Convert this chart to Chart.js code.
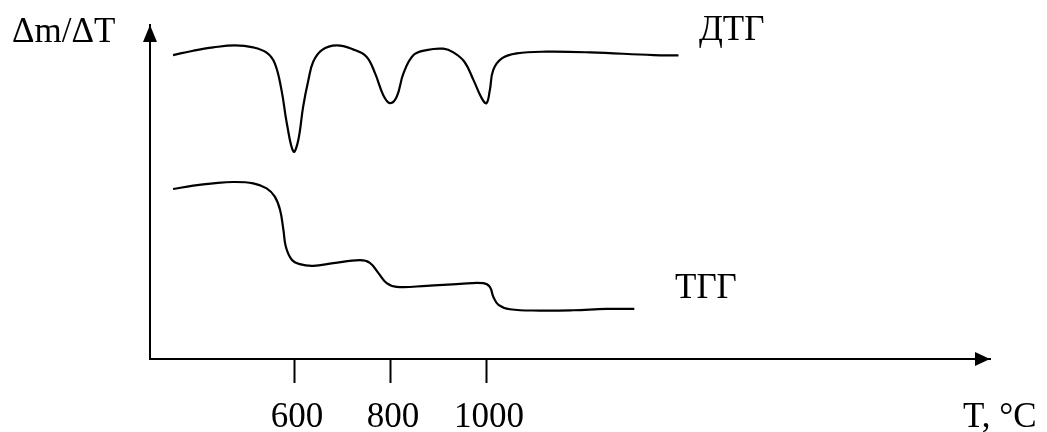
<!DOCTYPE html>
<html>
<head>
<meta charset="utf-8">
<title>ДТГ / ТГГ</title>
<script src="https://cdn.jsdelivr.net/npm/chart.js@4/dist/chart.umd.min.js"></script>
<style>
  body { margin: 0; background: #fff; }
  #wrap { width: 1047px; height: 432px; position: relative; }
</style>
</head>
<body>
<div id="wrap"><canvas id="chart-area"></canvas></div>
<script>
// data (temperature in °C, signal in arbitrary units 0..100)

var tickValues = [600, 800, 1000];

var dtgTemp = [348, 390, 432, 477, 515, 543, 560, 574, 585, 599, 609, 619, 630, 640, 658,
    689, 723, 751, 769, 786, 800, 814, 828, 849, 876, 911, 932, 955, 974, 991, 1001,
    1008, 1015, 1033, 1064, 1126, 1217, 1349, 1401];
var dtgValue = [91.0, 92.3, 93.3, 93.9, 93.3, 91.7, 88.5, 80.5, 70.6, 62.1, 65.6, 75.5, 83.5, 89.0, 92.5,
    93.9, 92.7, 90.5, 85.5, 79.0, 76.6, 78.5, 85.5, 91.0, 92.5, 92.9, 91.8, 89.0, 83.5, 78.1, 76.6,
    80.5, 86.5, 90.0, 91.5, 92.0, 91.8, 91.0, 90.9];

var tgaTemp = [348, 390, 432, 473, 515, 543, 560, 571, 578, 583, 595, 612, 640, 682, 737,
    758, 776, 793, 814, 876, 946, 994, 1008, 1015, 1026, 1050, 1112, 1182, 1251, 1309];
var tgaValue = [50.9, 51.9, 52.6, 53.0, 52.6, 51.1, 48.6, 44.6, 38.6, 33.6, 29.8, 28.4, 27.9, 28.7, 29.6,
    28.8, 25.7, 22.7, 21.6, 21.9, 22.5, 22.7, 21.6, 18.7, 16.2, 14.9, 14.5, 14.6, 15.0, 15.0];

var seriesNames = ['ДТГ', 'ТГГ'];
var yAxisLabel = 'Δm/ΔT';
var xAxisLabel = 'T, °C';

function toPoints(xs, ys) {
    return xs.map(function (x, i) {
        return { x: x, y: ys[i] };
    });
}

var serif = '"Liberation Serif", "Times New Roman", serif';

// arrows on the axes + free text labels
var decorPlugin = {
    id: 'decor',
    afterDraw: function (chart) {
        var ctx = chart.ctx;
        var a = chart.chartArea;
        ctx.save();
        ctx.fillStyle = '#000';
        // y arrow
        ctx.beginPath();
        ctx.moveTo(a.left, a.top);
        ctx.lineTo(a.left - 7, a.top + 17);
        ctx.lineTo(a.left + 7, a.top + 17);
        ctx.closePath();
        ctx.fill();
        // x arrow
        ctx.beginPath();
        ctx.moveTo(a.right, a.bottom);
        ctx.lineTo(a.right - 15, a.bottom - 7);
        ctx.lineTo(a.right - 15, a.bottom + 7);
        ctx.closePath();
        ctx.fill();

        ctx.font = '35px ' + serif;
        ctx.textAlign = 'left';
        ctx.textBaseline = 'alphabetic';
        ctx.fillText(yAxisLabel, 12, 42);
        ctx.fillText(seriesNames[0], 699, 40);
        ctx.fillText(seriesNames[1], 675, 298);
        ctx.fillText(xAxisLabel, 963, 427);
        ctx.restore();
    }
};

var config = {
    type: 'line',
    data: {
        datasets: [{
            label: seriesNames[0],
            data: toPoints(dtgTemp, dtgValue),
            borderColor: '#000',
            borderWidth: 2.2,
            pointRadius: 0,
            tension: 0.4,
            fill: false
        }, {
            label: seriesNames[1],
            data: toPoints(tgaTemp, tgaValue),
            borderColor: '#000',
            borderWidth: 2.2,
            pointRadius: 0,
            tension: 0.4,
            fill: false
        }]
    },
    options: {
        responsive: true,
        maintainAspectRatio: false,
        animation: false,
        devicePixelRatio: 1,
        layout: {
            padding: { left: 150, top: 25, right: 57, bottom: 0 }
        },
        plugins: {
            legend: { display: false },
            tooltip: { enabled: false }
        },
        scales: {
            x: {
                type: 'linear',
                min: 300,
                max: 2050,
                afterBuildTicks: function (scale) {
                    scale.ticks = tickValues.map(function (v) { return { value: v }; });
                },
                afterFit: function (scale) {
                    scale.height = 73;
                },
                grid: {
                    drawOnChartArea: false,
                    drawTicks: true,
                    tickLength: 24,
                    tickWidth: 2,
                    tickColor: '#000'
                },
                border: { display: true, color: '#000', width: 2 },
                ticks: {
                    color: '#000',
                    font: { family: serif, size: 35 },
                    padding: 14,
                    maxRotation: 0,
                    autoSkip: false,
                    labelOffset: 3,
                    callback: function (v) { return String(v); }
                }
            },
            y: {
                type: 'linear',
                min: 0,
                max: 100,
                afterFit: function (scale) {
                    scale.width = 0;
                },
                grid: { display: false, drawTicks: false },
                border: { display: true, color: '#000', width: 2 },
                ticks: { display: false }
            }
        }
    },
    plugins: [decorPlugin]
};

window.onload = function () {
    var ctx = document.getElementById('chart-area').getContext('2d');
    window.myChart = new Chart(ctx, config);
};
</script>
</body>
</html>
